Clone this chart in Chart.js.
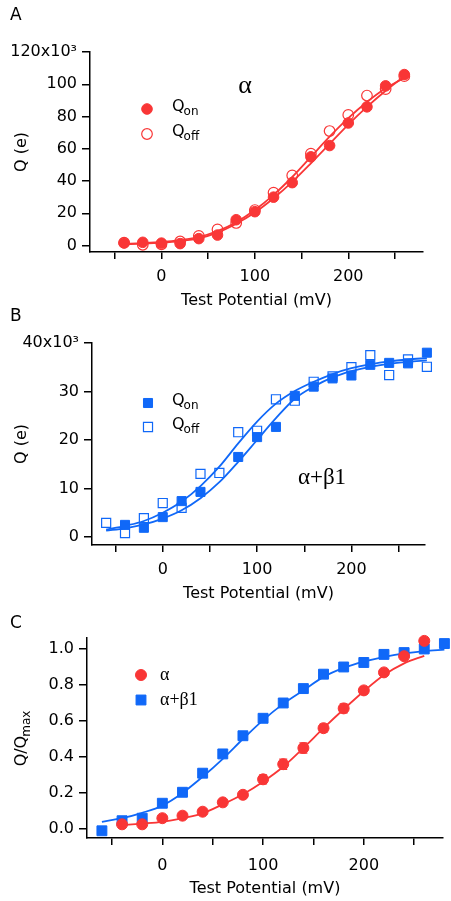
<!DOCTYPE html>
<html>
<head>
<meta charset="utf-8">
<script src="https://cdn.jsdelivr.net/npm/chart.js@4.4.0/dist/chart.umd.min.js"></script>
<style>
  body { margin: 0; background: #fff; width: 451px; height: 901px; position: relative; overflow: hidden; }
  .panel { position: absolute; left: 0; width: 451px; }
  .letter { position: absolute; left: 10px; font: 17px "DejaVu Sans", sans-serif; color: #000; z-index: 2; }
</style>
</head>
<body>
<div class="panel" style="top:0;height:310px"><canvas id="chartA"></canvas></div>
<div class="panel" style="top:310px;height:295px"><canvas id="chartB"></canvas></div>
<div class="panel" style="top:605px;height:296px"><canvas id="chartC"></canvas></div>
<div class="letter" style="top:4px">A</div>
<div class="letter" style="top:305px">B</div>
<div class="letter" style="top:612px">C</div>
<script>
const RED = "#f93636";
const BLUE = "#1068f8";
const FONT = '"DejaVu Sans", sans-serif';
const SERIF = '"Liberation Serif", serif';
const FS = 16;

// shared x ticks (mV)
const xTicks = [-50, 0, 50, 100, 150, 200, 250];
const xLabels = [0, 100, 200];

// panel A: alpha, charge (x10^3 e)
const potA = [-40, -20, 0, 20, 40, 60, 80, 100, 120, 140, 160, 180, 200, 220, 240, 260];
const qOnA = [1.6, 2.0, 1.5, 1.2, 4.3, 6.5, 16, 21, 30, 39, 55, 62, 76, 86, 99, 106];
const qOffA = [1.8, 0.5, 0.8, 2.5, 6, 10, 14, 22, 32.8, 43.5, 57, 71, 81, 93, 97, 105];
const fitOnA = [0.8, 1.2, 1.8, 2.8, 4.5, 8, 13.5, 20.5, 29.3, 39.5, 51, 63, 75, 86, 96, 105];
const fitOffA = [1.0, 1.5, 2.2, 3.4, 5.3, 9, 14.5, 22, 31.4, 42.5, 55, 67.5, 79, 89, 97.5, 104];
const yTicksA = [0, 20, 40, 60, 80, 100, 120];

// panel B: alpha+beta1
const potOnB = [-40, -20, 0, 20, 40, 80, 100, 120, 140, 160, 180, 200, 220, 240, 260, 280];
const qOnB = [2.5, 1.9, 4.1, 7.4, 9.3, 16.5, 20.6, 22.7, 29.1, 31.0, 32.7, 33.3, 35.5, 35.9, 35.8, 38.0];
const potOffB = [-60, -40, -20, 0, 20, 40, 60, 80, 100, 120, 140, 160, 180, 200, 220, 240, 260, 280];
const qOffB = [2.9, 0.8, 3.9, 7.0, 6.0, 13.0, 13.2, 21.6, 21.9, 28.4, 28.1, 32.0, 33.1, 35.0, 37.5, 33.4, 36.6, 35.1];
const fitPotB = [-60, -40, -20, 0, 20, 40, 60, 80, 100, 120, 140, 160, 180, 200, 220, 240, 260, 280];
const fitOnB = [1.3, 1.8, 2.6, 3.8, 5.5, 8.0, 11.3, 15.5, 20.0, 24.5, 28.5, 31.0, 32.9, 34.2, 35.1, 35.7, 36.1, 36.4];
const fitOffB = [1.5, 2.3, 3.3, 5.0, 7.3, 10.5, 14.5, 19.3, 23.8, 27.5, 30.1, 32.0, 33.6, 34.8, 35.6, 36.2, 36.6, 36.9];
const yTicksB = [0, 10, 20, 30, 40];

// panel C: normalised Q/Qmax
const potAlphaC = [-40, -20, 0, 20, 40, 60, 80, 100, 120, 140, 160, 180, 200, 220, 240, 260];
const alphaC = [0.026, 0.026, 0.06, 0.074, 0.096, 0.148, 0.19, 0.276, 0.36, 0.45, 0.56, 0.67, 0.77, 0.87, 0.96, 1.045];
const alphaErrC = [0.01, 0.01, 0.01, 0.01, 0.01, 0.012, 0.012, 0.025, 0.028, 0.028, 0.023, 0.025, 0.02, 0.017, 0.015, 0.015];
const fitAlphaC = [0.022, 0.03, 0.04, 0.06, 0.087, 0.137, 0.193, 0.263, 0.346, 0.45, 0.56, 0.665, 0.765, 0.855, 0.92, 0.962];
const potBetaC = [-60, -40, -20, 0, 20, 40, 60, 80, 100, 120, 140, 160, 180, 200, 220, 240, 260, 280];
const betaC = [-0.01, 0.046, 0.06, 0.143, 0.204, 0.31, 0.417, 0.518, 0.615, 0.70, 0.78, 0.86, 0.90, 0.925, 0.97, 0.98, 1.0, 1.03];
const fitBetaC = [0.04, 0.06, 0.09, 0.13, 0.2, 0.29, 0.39, 0.5, 0.605, 0.695, 0.77, 0.845, 0.895, 0.93, 0.955, 0.975, 0.988, 0.996];
const yTicksC = [0, 0.2, 0.4, 0.6, 0.8, 1.0];

const pts = (xs, ys) => xs.map((x, i) => ({ x: x, y: ys[i] }));

function marks(label, xs, ys, color, style, radius, open) {
  return {
    label: label, data: pts(xs, ys), showLine: false,
    pointStyle: style, pointRadius: radius, pointHoverRadius: radius,
    backgroundColor: open ? "rgba(0,0,0,0)" : color,
    borderColor: color, pointBorderWidth: open ? 1.2 : 1, clip: false
  };
}
function fitLine(xs, ys, color) {
  return {
    label: "fit", data: pts(xs, ys), showLine: true, pointRadius: 0,
    borderColor: color, borderWidth: 1.8, cubicInterpolationMode: "monotone", clip: false
  };
}

function xScale(min, max, height, labelPad, titlePad) {
  return {
    type: "linear", min: min, max: max,
    afterBuildTicks: s => { s.ticks = xTicks.map(v => ({ value: v })); },
    afterFit: s => { s.height = height; },
    ticks: {
      color: "#000", font: { family: FONT, size: FS }, padding: labelPad, autoSkip: false, maxRotation: 0,
      callback: v => xLabels.includes(v) ? String(v) : ""
    },
    grid: { drawOnChartArea: false, tickLength: 7, color: "#000", lineWidth: 1.5 },
    border: { display: true, color: "#000", width: 1.5 },
    title: { display: true, text: "Test Potential (mV)", color: "#000", font: { family: FONT, size: FS }, padding: { top: 0, bottom: titlePad } }
  };
}
function yScale(min, max, ticks, width, fmt) {
  return {
    type: "linear", min: min, max: max,
    afterBuildTicks: s => { s.ticks = ticks.map(v => ({ value: v })); },
    afterFit: s => { s.width = width; },
    ticks: { color: "#000", font: { family: FONT, size: FS }, padding: 5, autoSkip: false, callback: fmt },
    grid: { drawOnChartArea: false, tickLength: 8, color: "#000", lineWidth: 1.5 },
    border: { display: true, color: "#000", width: 1.5 }
  };
}

function drawMarker(ctx, ds, x, y) {
  const r = ds.pointRadius;
  ctx.beginPath();
  if (ds.pointStyle === "rect") {
    const h = r * Math.SQRT1_2;
    ctx.rect(x - h, y - h, 2 * h, 2 * h);
  } else {
    ctx.arc(x, y, r, 0, Math.PI * 2);
  }
  ctx.fillStyle = ds.backgroundColor;
  ctx.fill();
  ctx.lineWidth = ds.pointBorderWidth;
  ctx.strokeStyle = ds.borderColor;
  ctx.stroke();
}

function subText(ctx, main, sub, x, y, align, size) {
  ctx.font = size + "px " + FONT;
  const w1 = ctx.measureText(main).width;
  ctx.font = Math.round(size * 0.75) + "px " + FONT;
  const w2 = sub ? ctx.measureText(sub).width : 0;
  let sx = align === "center" ? x - (w1 + w2) / 2 : x;
  ctx.textAlign = "left";
  ctx.textBaseline = "middle";
  ctx.font = size + "px " + FONT;
  ctx.fillText(main, sx, y);
  if (sub) {
    ctx.font = Math.round(size * 0.75) + "px " + FONT;
    ctx.fillText(sub, sx + w1 - 1, y + size * 0.3);
  }
}

const notes = {
  id: "notes",
  afterDatasetsDraw(chart, args, opts) {
    const ctx = chart.ctx;
    const xs = chart.scales.x, ys = chart.scales.y;
    ctx.save();
    if (opts.errors) {
      const ds = chart.data.datasets[opts.errors.ds];
      ctx.strokeStyle = ds.borderColor;
      ctx.lineWidth = 1.3;
      ds.data.forEach((p, i) => {
        const e = opts.errors.values[i];
        const px = xs.getPixelForValue(p.x);
        const top = ys.getPixelForValue(p.y + e), bot = ys.getPixelForValue(p.y - e);
        ctx.beginPath();
        ctx.moveTo(px, top); ctx.lineTo(px, bot);
        ctx.moveTo(px - 4, top); ctx.lineTo(px + 4, top);
        ctx.moveTo(px - 4, bot); ctx.lineTo(px + 4, bot);
        ctx.stroke();
      });
    }
    ctx.fillStyle = "#000";
    // y axis title
    const midY = (chart.chartArea.top + chart.chartArea.bottom) / 2;
    ctx.save();
    ctx.translate(opts.yTitleX, midY);
    ctx.rotate(-Math.PI / 2);
    ctx.fillStyle = "#000";
    subText(ctx, opts.yTitle[0], opts.yTitle[1], 0, 0, "center", FS);
    ctx.restore();
    // legend
    (opts.legend || []).forEach(it => {
      drawMarker(ctx, chart.data.datasets[it.ds], it.x, it.y);
      ctx.fillStyle = "#000";
      if (it.serif) {
        ctx.font = it.serif;
        ctx.textAlign = "left";
        ctx.textBaseline = "middle";
        ctx.fillText(it.text, opts.legendTextX, it.y);
      } else {
        subText(ctx, it.text, it.sub, opts.legendTextX, it.y - 2, "left", FS);
      }
    });
    // free labels
    (opts.labels || []).forEach(l => {
      ctx.fillStyle = "#000";
      ctx.font = l.font;
      ctx.textAlign = "center";
      ctx.textBaseline = "middle";
      ctx.fillText(l.text, l.x, l.y);
    });
    ctx.restore();
  }
};

function baseOptions(pad, x, y, noteOpts) {
  return {
    responsive: true, maintainAspectRatio: false, animation: false,
    layout: { padding: pad },
    scales: { x: x, y: y },
    plugins: { legend: { display: false }, tooltip: { enabled: false }, notes: noteOpts }
  };
}

new Chart(document.getElementById("chartA"), {
  type: "scatter",
  data: {
    datasets: [
      marks("Qon", potA, qOnA, RED, "circle", 5.3, false),
      marks("Qoff", potA, qOffA, RED, "circle", 5.3, true),
      fitLine(potA, fitOnA, RED),
      fitLine(potA, fitOffA, RED)
    ]
  },
  options: baseOptions(
    { top: 52, right: 28, left: 0, bottom: 0 },
    xScale(-76.5, 280, 58, 8, 0),
    yScale(-4, 120, yTicksA, 90, v => v === 120 ? "120x10\u00b3" : String(v)),
    {
      yTitleX: 22, yTitle: ["Q (e)", ""], legendTextX: 172,
      legend: [{ ds: 0, x: 147, y: 109, text: "Q", sub: "on" }, { ds: 1, x: 147, y: 134, text: "Q", sub: "off" }],
      labels: [{ text: "\u03b1", x: 245, y: 86, font: "26px " + SERIF }]
    }
  ),
  plugins: [notes]
});

new Chart(document.getElementById("chartB"), {
  type: "scatter",
  data: {
    datasets: [
      marks("Qon", potOnB, qOnB, BLUE, "rect", 6.4, false),
      marks("Qoff", potOffB, qOffB, BLUE, "rect", 6.4, true),
      fitLine(fitPotB, fitOnB, BLUE),
      fitLine(fitPotB, fitOffB, BLUE)
    ]
  },
  options: baseOptions(
    { top: 33, right: 26, left: 0, bottom: 0 },
    xScale(-75, 278, 60, 8, 2),
    yScale(-1.65, 40, yTicksB, 92, v => v === 40 ? "40x10\u00b3" : String(v)),
    {
      yTitleX: 22, yTitle: ["Q (e)", ""], legendTextX: 172,
      legend: [{ ds: 0, x: 148, y: 93, text: "Q", sub: "on" }, { ds: 1, x: 148, y: 117, text: "Q", sub: "off" }],
      labels: [{ text: "\u03b1+\u03b21", x: 322, y: 168, font: "23px " + SERIF }]
    }
  ),
  plugins: [notes]
});

new Chart(document.getElementById("chartC"), {
  type: "scatter",
  data: {
    datasets: [
      marks("\u03b1", potAlphaC, alphaC, RED, "circle", 5.5, false),
      marks("\u03b1+\u03b21", potBetaC, betaC, BLUE, "rect", 7, false),
      fitLine(potAlphaC, fitAlphaC, RED),
      fitLine(potBetaC, fitBetaC, BLUE)
    ]
  },
  options: baseOptions(
    { top: 33, right: 0, left: 0, bottom: 0 },
    xScale(-74.8, 278.6, 63, 11, 3),
    yScale(-0.05, 1.061, yTicksC, 87, v => v.toFixed(1)),
    {
      yTitleX: 22, yTitle: ["Q/Q", "max"], legendTextX: 160,
      errors: { ds: 0, values: alphaErrC },
      legend: [{ ds: 0, x: 141, y: 70, text: "\u03b1", serif: "18px " + SERIF }, { ds: 1, x: 141, y: 95, text: "\u03b1+\u03b21", serif: "18px " + SERIF }]
    }
  ),
  plugins: [notes]
});
</script>
</body>
</html>
